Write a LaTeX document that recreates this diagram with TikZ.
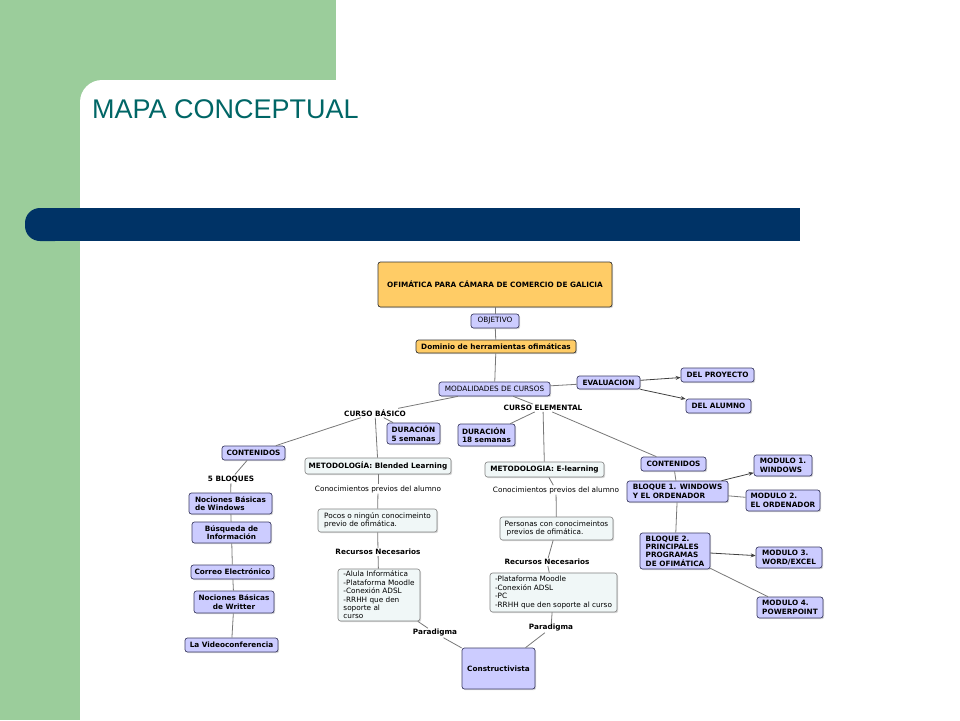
\documentclass[tikz,border=0pt]{standalone}
\usepackage{fontspec}
\setmainfont{DejaVu Sans}
\newfontfamily\titlefont{Liberation Sans}
\usetikzlibrary{arrows.meta,shadows}

\definecolor{slidegreen}{RGB}{155,205,155}
\definecolor{slidenavy}{RGB}{0,51,102}
\definecolor{titleteal}{RGB}{0,102,102}
\definecolor{lavender}{RGB}{204,204,255}
\definecolor{lavborder}{RGB}{60,60,100}
\definecolor{mapgold}{RGB}{255,204,102}
\definecolor{palebox}{RGB}{240,247,247}
\definecolor{linkgray}{RGB}{120,120,120}

\newcommand\mapfont{\fontsize{7.3}{8.4}\selectfont}

\tikzset{
  box/.style={rounded corners=2.5pt, inner sep=2pt, font=\mapfont,
    drop shadow={shadow xshift=1.2pt,shadow yshift=-1.2pt,fill=black!30}},
  concept/.style={box, fill=lavender, draw=lavborder, line width=0.7pt, font=\mapfont\bfseries},
  headbox/.style={box, fill=mapgold, draw=black!80, line width=0.7pt, font=\mapfont\bfseries},
  notebox/.style={box, fill=palebox, draw=black!50, line width=0.6pt},
  link/.style={font=\mapfont\bfseries, inner sep=1pt},
  plainlink/.style={font=\mapfont, inner sep=1pt},
  conn/.style={draw=linkgray, line width=0.8pt},
  arr/.style={draw=black!75, line width=0.8pt, -{Stealth[length=5pt,width=4pt]}},
}

\begin{document}
\begin{tikzpicture}[x=1pt,y=-1pt]
\useasboundingbox (0,0) rectangle (960,720);
% slide background
\fill[slidegreen](0,0)rectangle(336,80);
\fill[slidegreen](0,0)rectangle(80,720);
\fill[slidegreen](80,80)rectangle(110,110);
\fill[white,rounded corners=22pt](80,80)rectangle(300,300);
\fill[slidenavy,rounded corners=15pt](25,208)rectangle(70,241);
\fill[slidenavy](50,208)rectangle(800,241);
\node[anchor=base west,inner sep=0,text=titleteal,font=\titlefont\fontsize{27}{32}\selectfont] (title) at (92,118) {MAPA CONCEPTUAL};

% top of the map
\node[headbox,minimum width=234pt,minimum height=45pt] (head) at (495,284.5) {OFIMÁTICA PARA CÁMARA DE COMERCIO DE GALICIA};
\node[concept,font=\mapfont,minimum width=48pt,minimum height=14pt] (obj) at (495,321) {OBJETIVO};
\node[headbox,minimum width=160pt,minimum height=13pt] (dominio) at (496,346.5) {Dominio de herramientas ofimáticas};
\node[concept,font=\mapfont,minimum width=111pt,minimum height=14pt] (modal) at (494.5,389) {MODALIDADES DE CURSOS};
\node[concept,minimum width=63pt,minimum height=13pt] (evalua) at (608.5,382.5) {EVALUACION};
\node[concept,minimum width=73pt,minimum height=14pt] (delproy) at (717.5,375) {DEL PROYECTO};
\node[concept,minimum width=65pt,minimum height=14pt] (delalum) at (718.5,406) {DEL ALUMNO};
\node[link] (basico) at (375,413) {CURSO BÁSICO};
\node[link] (elemental) at (543,408) {CURSO ELEMENTAL};

% curso basico
\node[concept,align=left,minimum width=53pt,minimum height=21pt] (dur5) at (413.5,433.5) {DURACIÓN\\5 semanas};
\node[concept,minimum width=63pt,minimum height=14pt] (contL) at (253.5,453) {CONTENIDOS};
\node[link] (bloques) at (231,479) {5 BLOQUES};
\node[concept,align=left,minimum width=83pt,minimum height=21pt] (nocwin) at (230.5,503.5) {Nociones Básicas\\de Windows};
\node[concept,align=center,minimum width=79pt,minimum height=21pt] (busq) at (231.5,532.5) {Búsqueda de\\Información};
\node[concept,minimum width=83pt,minimum height=14pt] (correo) at (232.5,572) {Correo Electrónico};
\node[concept,align=center,minimum width=80pt,minimum height=22pt] (nocwrit) at (234,602) {Nociones Básicas\\de Writter};
\node[concept,minimum width=93pt,minimum height=14pt] (video) at (231.5,645) {La Videoconferencia};
\node[notebox,font=\mapfont\bfseries,minimum width=146pt,minimum height=16pt] (metB) at (378,466) {METODOLOGÍA: Blended Learning};
\node[plainlink] (conB) at (378,489) {Conocimientos previos del alumno};
\node[notebox,align=left,minimum width=119pt,minimum height=23pt] (pocos) at (377.5,520.5) {Pocos o ningún conocimeinto\\previo de ofimática.};
\node[link] (recB) at (378,552) {Recursos Necesarios};
\node[notebox,align=left,minimum width=82pt,minimum height=52pt] (recursosB) at (379,595) {-Alula Informática\\-Plataforma Moodle\\-Conexión ADSL\\-RRHH que den\\soporte al\\curso};
\node[link] (paraB) at (435,633) {Paradigma};
\node[concept,minimum width=73pt,minimum height=41pt] (constr) at (498.5,668.5) {Constructivista};

% curso elemental
\node[concept,align=left,minimum width=57pt,minimum height=22pt] (dur18) at (486.5,435) {DURACIÓN\\18 semanas};
\node[notebox,font=\mapfont\bfseries,minimum width=119pt,minimum height=15pt] (metE) at (544.5,469.5) {METODOLOGIA: E-learning};
\node[plainlink] (conE) at (556,490) {Conocimientos previos del alumno};
\node[notebox,align=left,minimum width=113pt,minimum height=23pt] (personas) at (556.5,528.5) {Personas con conocimeintos\\\hspace{2pt}previos de ofimática.};
\node[link] (recE) at (547,562) {Recursos Necesarios};
\node[notebox,align=left,minimum width=127pt,minimum height=39pt] (recursosE) at (553.5,592.5) {-Plataforma Moodle\\-Conexión ADSL\\-PC\\-RRHH que den soporte al curso};
\node[link] (paraE) at (551,628) {Paradigma};
\node[concept,minimum width=65pt,minimum height=14pt] (contR) at (673.5,464) {CONTENIDOS};
\node[concept,align=left,minimum width=101pt,minimum height=21pt] (bloq1) at (677.5,491.5) {BLOQUE 1. WINDOWS\\Y EL ORDENADOR};
\node[concept,align=left,minimum width=70pt,minimum height=36pt] (bloq2) at (675,551) {BLOQUE 2.\\PRINCIPALES\\PROGRAMAS\\DE OFIMÁTICA};
\node[concept,align=left,minimum width=58pt,minimum height=21pt] (mod1) at (783,465.5) {MODULO 1.\\WINDOWS};
\node[concept,align=left,minimum width=74pt,minimum height=21pt] (mod2) at (783,500.5) {MODULO 2.\\EL ORDENADOR};
\node[concept,align=left,minimum width=66pt,minimum height=21pt] (mod3) at (789,557.5) {MODULO 3.\\WORD/EXCEL};
\node[concept,align=left,minimum width=66pt,minimum height=21pt] (mod4) at (790,607.5) {MODULO 4.\\POWERPOINT};

% connectors
\draw[conn](head)--(obj);
\draw[conn](obj)--(dominio);
\draw[conn](dominio)--(modal);
\draw[conn](modal)--(evalua);
\draw[arr](evalua)--(delproy);
\draw[arr](evalua)--(delalum);
\draw[conn](modal)--(basico);
\draw[conn](modal)--(elemental);

\draw[conn](basico)--(contL);
\draw[conn](basico)--(dur5);
\draw[conn](basico)--(metB);
\draw[conn](contL)--(bloques);
\draw[conn](bloques)--(nocwin);
\draw[conn](nocwin)--(busq);
\draw[conn](busq)--(correo);
\draw[conn](correo)--(nocwrit);
\draw[conn](nocwrit)--(video);
\draw[conn](metB)--(conB);
\draw[conn](conB)--(pocos);
\draw[conn](pocos)--(recB);
\draw[conn](recB)--(recursosB);
\draw[conn](recursosB)--(paraB);
\draw[conn](paraB)--(constr);

\draw[conn](elemental)--(dur18);
\draw[conn](elemental)--(metE);
\draw[conn](elemental)--(contR);
\draw[conn](metE)--(conE);
\draw[conn](conE)--(personas);
\draw[conn](personas)--(recE);
\draw[conn](recE)--(recursosE);
\draw[conn](recursosE)--(paraE);
\draw[conn](paraE)--(constr);
\draw[conn](contR)--(bloq1);
\draw[arr](bloq1)--(mod1);
\draw[conn](bloq1)--(mod2);
\draw[conn](bloq1)--(bloq2);
\draw[arr](bloq2)--(mod3);
\draw[conn](bloq2)--(mod4);
\end{tikzpicture}
\end{document}
